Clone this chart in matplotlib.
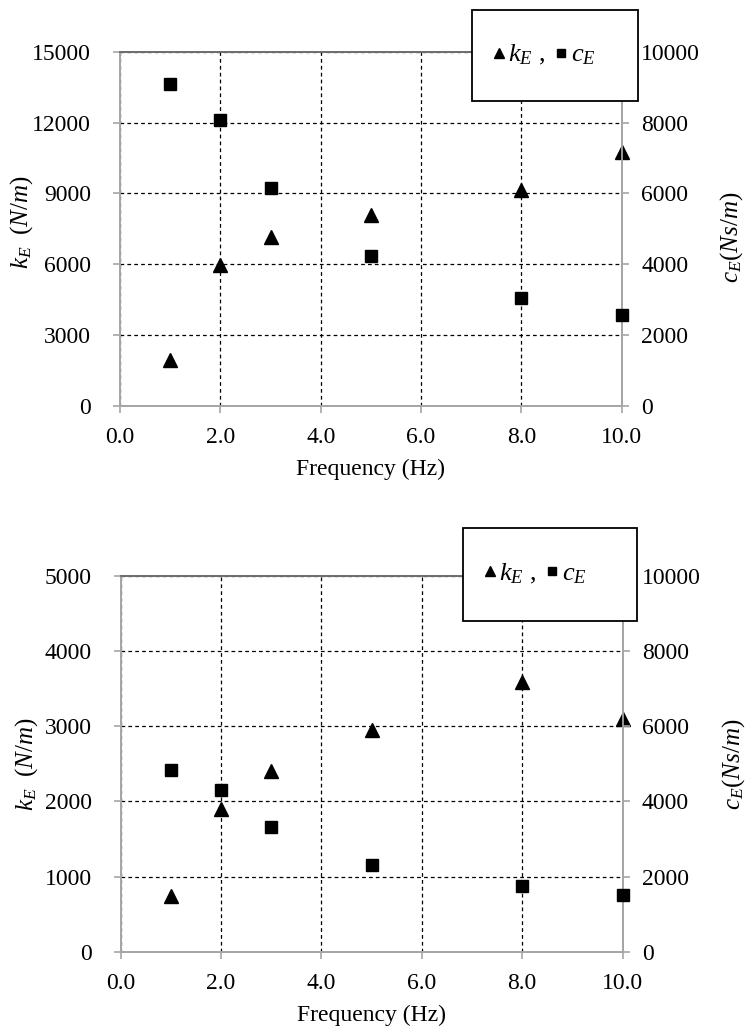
import matplotlib
matplotlib.use('Agg')
import matplotlib.pyplot as plt
from matplotlib.lines import Line2D
from matplotlib.patches import Rectangle

plt.rcParams['font.family'] = ['Liberation Serif', 'DejaVu Serif']
plt.rcParams['mathtext.fontset'] = 'custom'
plt.rcParams['mathtext.rm'] = 'Liberation Serif'
plt.rcParams['mathtext.it'] = 'Liberation Serif:italic'
plt.rcParams['font.size'] = 17

# data
freq = [1, 2, 3, 5, 8, 10]
k_top = [1960, 5980, 7150, 8070, 9130, 10750]
c_top = [9080, 8080, 6160, 4230, 3050, 2580]
k_bot = [740, 1900, 2405, 2945, 3590, 3100]
c_bot = [4830, 4300, 3310, 2300, 1740, 1520]

x_ticks = [0, 2, 4, 6, 8, 10]
k_ticks_top = [0, 3000, 6000, 9000, 12000, 15000]
k_ticks_bot = [0, 1000, 2000, 3000, 4000, 5000]
c_ticks = [0, 2000, 4000, 6000, 8000, 10000]

spine_col = '#a6a6a6'

fig = plt.figure(figsize=(7.5, 10.31), dpi=100)


def panel(rect, k, c, kticks, leg_rect, klabel_xy, clabel_xy):
    ax = fig.add_axes(rect)
    ax2 = ax.twinx()
    ax.set_xlim(0, 10)
    ax.set_ylim(kticks[0], kticks[-1])
    ax2.set_ylim(c_ticks[0], c_ticks[-1])
    ax.set_xticks(x_ticks)
    ax.set_xticklabels(['%.1f' % v for v in x_ticks])
    ax.set_yticks(kticks)
    ax2.set_yticks(c_ticks)
    ax.grid(True, color='black', linestyle=(0, (3, 2.5)), linewidth=0.9)
    for a in (ax, ax2):
        for s in ('left', 'bottom', 'right'):
            a.spines[s].set_color(spine_col)
            a.spines[s].set_linewidth(1.3)
        a.spines['top'].set_color('#6e6e6e')
        a.spines['top'].set_linewidth(1.3)
        a.tick_params(color=spine_col, width=1.2, length=5)
    ax.tick_params(axis='y', pad=16)
    ax.tick_params(axis='x', pad=10)
    ax2.tick_params(axis='y', pad=9)
    ax.plot(freq, k, '^', color='black', ms=10, clip_on=False, zorder=5)
    ax2.plot(freq, c, 's', color='black', ms=9.3, clip_on=False, zorder=5)
    ax.set_xlabel('Frequency (Hz)', labelpad=8)
    ax.set_ylabel(r'$k_{E}\ \ (N/m)$', fontsize=18)
    ax.yaxis.set_label_coords(*klabel_xy)
    ax2.set_ylabel(r'$c_{E}(Ns/m)$', fontsize=18)
    ax2.yaxis.set_label_coords(*clabel_xy)

    fig.patches.append(Rectangle((leg_rect[0], leg_rect[1]), leg_rect[2], leg_rect[3],
                                 transform=fig.transFigure, facecolor='white',
                                 edgecolor='black', linewidth=1.3, zorder=10))
    handles = [Line2D([], [], marker='^', color='black', linestyle='none', ms=6.5),
               Line2D([], [], marker='s', color='black', linestyle='none', ms=5.5)]
    leg = fig.legend(handles, [r'$k_{E}$ ,', r'$c_{E}$'], ncol=2, frameon=False,
                     loc='center left', fontsize=19, handlelength=0.5,
                     handletextpad=0.12, columnspacing=0.35, borderpad=0,
                     borderaxespad=0,
                     bbox_to_anchor=(leg_rect[0] + 0.027, leg_rect[1] + leg_rect[3] / 2))
    leg.set_zorder(11)
    return ax, ax2


panel([0.16, 0.6062, 0.669, 0.3437], k_top, c_top, k_ticks_top,
      (0.629, 0.9023, 0.222, 0.088), (-0.17, 0.52), (1.192, 0.475))
panel([0.161, 0.0769, 0.669, 0.3644], k_bot, c_bot, k_ticks_bot,
      (0.617, 0.398, 0.232, 0.0902), (-0.16, 0.5), (1.195, 0.5))

fig.savefig('out.png', dpi=100)
